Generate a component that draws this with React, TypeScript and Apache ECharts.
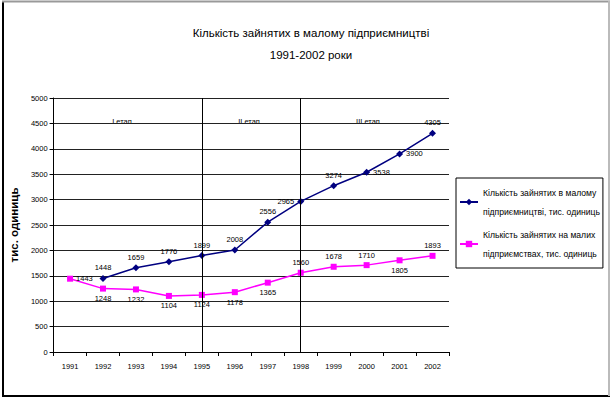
import React, { useEffect, useRef } from "react";
import * as echarts from "echarts";

const years = ["1991","1992","1993","1994","1995","1996","1997","1998","1999","2000","2001","2002"];
const smallBusinessEmployed = [null, 1448, 1659, 1776, 1899, 2008, 2556, 2965, 3274, 3538, 3900, 4305];
const smallEnterpriseEmployed = [1443, 1248, 1232, 1104, 1124, 1178, 1365, 1560, 1678, 1710, 1805, 1893];
const yTicks = { min: 0, max: 5000, interval: 500 };
const stageYears = ["1995", "1998"];
const stageNames = ["I етап", "II етап", "III етап"];
const seriesNames = [
  "Кількість зайнятих в малому підприємництві, тис. одиниць",
  "Кількість зайнятих на малих підприємствах, тис. одиниць",
];
const legendLines: Record<string, string> = {
  [seriesNames[0]]: "Кількість зайнятих в малому\nпідприємництві, тис. одиниць",
  [seriesNames[1]]: "Кількість зайнятих на малих\nпідприємствах, тис. одиниць",
};

const blueLabelPos = [null, "top", "top", "top", "top", "top", "top", "left", "top", "right", "right", "top"];
const pinkLabelPos = ["right", "bottom", "bottom", "bottom", "bottom", "bottom", "bottom", "top", "top", "top", "bottom", "top"];

const FONT = "'Liberation Sans', Arial, sans-serif";

export default function App() {
  const ref = useRef<HTMLDivElement>(null);
  useEffect(() => {
    document.body.style.margin = "0";
    const chart = echarts.init(ref.current!, null, { renderer: "svg" });
    const mk = (vals: (number | null)[], pos: (string | null)[]) =>
      vals.map((v, i) =>
        v == null
          ? "-"
          : { value: v, label: { position: pos[i] || "top", distance: 3 } }
      );
    chart.setOption({
      animation: false,
      backgroundColor: "#fff",
      textStyle: { fontFamily: FONT },
      title: {
        text: "Кількість зайнятих в малому підприємництві\n1991-2002 роки",
        left: 306,
        textAlign: "center",
        top: 17,
        textStyle: { fontFamily: FONT, fontSize: 11.5, fontWeight: "normal", color: "#000", lineHeight: 22 },
      },
      grid: { left: 53, right: 163, top: 98, bottom: 46, containLabel: false },
      legend: {
        orient: "vertical",
        left: 456,
        top: 178,
        padding: [5, 3, 5, 3],
        itemGap: 4,
        itemWidth: 18,
        itemHeight: 8,
        borderColor: "#000",
        borderWidth: 1,
        formatter: (n: string) => legendLines[n] || n,
        textStyle: { fontFamily: FONT, fontSize: 8.6, color: "#000", lineHeight: 19 },
        data: seriesNames,
      },
      xAxis: {
        type: "category",
        data: years,
        boundaryGap: true,
        axisLine: { lineStyle: { color: "#000", width: 1 } },
        axisTick: { show: true, alignWithLabel: false, length: 4, lineStyle: { color: "#000" } },
        axisLabel: { color: "#000", fontFamily: FONT, fontSize: 7.5, margin: 10 },
        splitLine: { show: false },
      },
      yAxis: {
        type: "value",
        min: yTicks.min,
        max: yTicks.max,
        interval: yTicks.interval,
        name: "тис. одиниць",
        nameLocation: "middle",
        nameRotate: 90,
        nameGap: 25,
        nameTextStyle: { fontFamily: FONT, fontWeight: "bold", fontSize: 11.5, color: "#000" },
        axisLine: { show: true, lineStyle: { color: "#000" } },
        axisTick: { show: true, length: 4, lineStyle: { color: "#000" } },
        axisLabel: { color: "#000", fontFamily: FONT, fontSize: 7.5, margin: 6, formatter: (v: number) => String(v) },
        splitLine: { show: true, lineStyle: { color: "#222", width: 1.2 } },
      },
      graphic: [
        { type: "line", shape: { x1: 3, y1: 2, x2: 3, y2: 396 }, style: { stroke: "#000", lineWidth: 2 } },
        { type: "line", shape: { x1: 2, y1: 396, x2: 610, y2: 396 }, style: { stroke: "#000", lineWidth: 2 } },
        { type: "line", shape: { x1: 2, y1: 1.5, x2: 610, y2: 1.5 }, style: { stroke: "#999", lineWidth: 2 } },
        { type: "line", shape: { x1: 609, y1: 1, x2: 609, y2: 396 }, style: { stroke: "#bbb", lineWidth: 2 } },
        { type: "text", x: 122, y: 117, style: { text: stageNames[0], fontFamily: FONT, fontSize: 7.5, fill: "#000", textAlign: "center" } },
        { type: "text", x: 249, y: 117, style: { text: stageNames[1], fontFamily: FONT, fontSize: 7.5, fill: "#000", textAlign: "center" } },
        { type: "text", x: 368, y: 117, style: { text: stageNames[2], fontFamily: FONT, fontSize: 7.5, fill: "#000", textAlign: "center" } },
      ],
      series: [
        {
          name: seriesNames[0],
          type: "line",
          data: mk(smallBusinessEmployed, blueLabelPos),
          symbol: "diamond",
          symbolSize: 7,
          color: "#000080",
          lineStyle: { width: 1.5, color: "#000080" },
          itemStyle: { color: "#000080" },
          label: { show: true, fontFamily: FONT, fontSize: 7.5, color: "#000" },
          markLine: {
            silent: true,
            symbol: "none",
            label: { show: false },
            lineStyle: { color: "#000", type: "solid", width: 1 },
            data: stageYears.map((y) => ({ xAxis: y })),
          },
          z: 3,
        },
        {
          name: seriesNames[1],
          type: "line",
          data: mk(smallEnterpriseEmployed, pinkLabelPos),
          symbol: "rect",
          symbolSize: 6,
          color: "#FF00FF",
          lineStyle: { width: 1.5, color: "#FF00FF" },
          itemStyle: { color: "#FF00FF" },
          label: { show: true, fontFamily: FONT, fontSize: 7.5, color: "#000" },
          z: 3,
        },
      ],
    });
    return () => chart.dispose();
  }, []);
  return <div ref={ref} style={{ position: "absolute", left: 0, top: 0, width: 612, height: 398 }} />;
}
